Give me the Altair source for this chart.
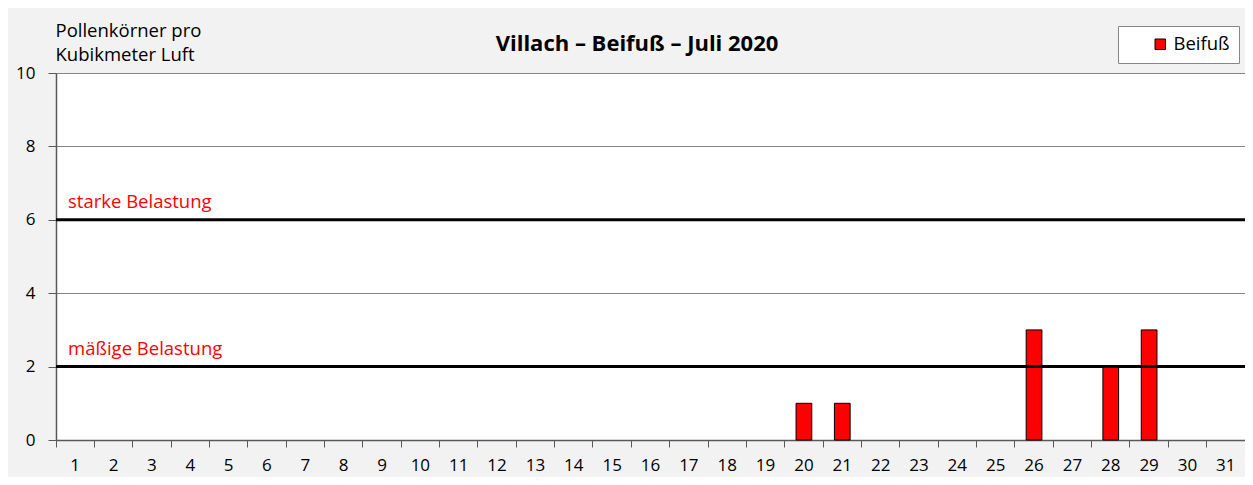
import altair as alt
import pandas as pd

days = list(range(1, 32))
values = [0] * 19 + [1, 1, 0, 0, 0, 0, 3, 0, 2, 3, 0, 0]
series = "Beifuß"
thresholds = [2, 6]
threshold_labels = ["mäßige Belastung", "starke Belastung"]
y_ticks = [0, 2, 4, 6, 8, 10]
title_text = "Villach – Beifuß – Juli 2020"
y_title = ["Pollenkörner pro", "Kubikmeter Luft"]

df = pd.DataFrame({"Tag": days, "Wert": values, "Serie": [series] * len(days)})
th = pd.DataFrame({"y": thresholds, "label": threshold_labels})
tt = pd.DataFrame({"t": [title_text]})

FONT = "Open Sans"
W, H = 1189, 367
TXT = 18.5

xscale = alt.Scale(domain=days, paddingInner=0, paddingOuter=0)
yscale = alt.Scale(domain=[0, 10])

bars = alt.Chart(df).transform_filter("datum.Wert > 0").mark_bar(
    stroke="black", strokeWidth=1, width=alt.RelativeBandSize(0.41)).encode(
    x=alt.X("Tag:O", scale=xscale, axis=alt.Axis(
        title=None, labelAngle=0, bandPosition=0, ticks=True, tickSize=7, labelPadding=10,
        labelFontSize=17, labelFont=FONT, labelColor="black", tickColor="#595959",
        domainColor="#595959", domainWidth=1.5, grid=False)),
    y=alt.Y("Wert:Q", scale=yscale, axis=alt.Axis(
        values=y_ticks, ticks=True, tickSize=8, labelPadding=13, labelFontSize=17, labelFont=FONT,
        labelColor="black", tickColor="#595959", domainColor="#595959", domainWidth=1.5,
        grid=True, gridColor="#868686", gridWidth=1,
        title=y_title, titleAngle=0, titleAlign="left",
        titleBaseline="alphabetic", titleX=-1, titleY=-37, titleFontWeight="normal",
        titleFontSize=TXT, titleFont=FONT, titleColor="black", titleLineHeight=24)),
    color=alt.Color("Serie:N", scale=alt.Scale(domain=[series], range=["#ff0000"]),
                    legend=alt.Legend(title=None, orient="none", legendX=1062, legendY=-47,
                                      fillColor="white", strokeColor="#868686", padding=9,
                                      symbolType="square", symbolSize=110, symbolStrokeColor="black",
                                      symbolStrokeWidth=1, symbolOffset=24, labelFontSize=TXT,
                                      labelFont=FONT, labelColor="black", labelOffset=4,
                                      labelExpr="datum.label + '\u00a0\u00a0\u00a0\u00a0'")),
)

rules = alt.Chart(th).mark_rule(color="black", strokeWidth=3).encode(
    y=alt.Y("y:Q", scale=yscale)
)

labels = alt.Chart(th).mark_text(color="#ff0000", align="left", baseline="alphabetic",
                                 fontSize=TXT, font=FONT, dy=-12).encode(
    x=alt.value(12),
    y=alt.Y("y:Q", scale=yscale),
    text="label:N",
)

title = alt.Chart(tt).mark_text(fontSize=22, font=FONT, fontWeight="bold", color="black",
                                align="center", baseline="alphabetic").encode(
    x=alt.value(581), y=alt.value(-22), text="t:N")

chart = alt.layer(bars, rules, labels, title).properties(
    width=W, height=H,
    autosize=alt.AutoSizeParams(type="none"),
    padding={"left": 48, "top": 65, "right": 0, "bottom": 37},
    background="#f2f2f2",
).configure_view(fill="white", stroke="#868686", strokeWidth=1)

chart.save("out.html", embed_options={"renderer": "svg", "actions": False})
